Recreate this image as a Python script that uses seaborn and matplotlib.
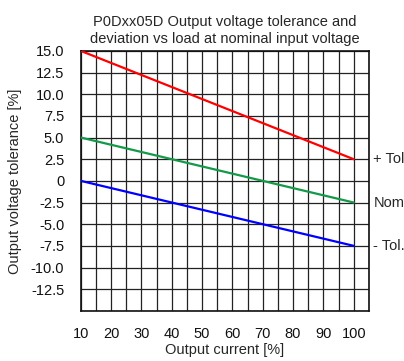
import matplotlib
matplotlib.use("Agg")
import matplotlib.pyplot as plt
import seaborn as sns
import pandas as pd
import numpy as np

current = [10, 100]
tol_plus = [15.0, 2.5]
nominal = [5.0, -2.5]
tol_minus = [0.0, -7.5]
series_names = ["+ Tol", "Nom", "- Tol."]
series_colors = ["#ff0000", "#129a48", "#0000ff"]
x_ticks = [10, 20, 30, 40, 50, 60, 70, 80, 90, 100]
y_ticks = [15.0, 12.5, 10.0, 7.5, 5.0, 2.5, 0, -2.5, -5.0, -7.5, -10.0, -12.5]
y_tick_labels = ["15.0", "12.5", "10.0", "7.5", "5.0", "2.5", "0", "-2.5", "-5.0", "-7.5", "-10.0", "-12.5"]

sns.set_style("white")
plt.rcParams['font.family'] = ['Liberation Sans', 'DejaVu Sans']

df = pd.DataFrame({
    "current": current * 3,
    "value": tol_plus + nominal + tol_minus,
    "series": [s for s in series_names for _ in current],
})

fs = 10.5
fig = plt.figure(figsize=(4.04, 3.61), dpi=100)
ax = fig.add_axes([0.200, 0.139, 0.713, 0.720])

# grid
for xv in np.arange(10, 105.1, 5):
    ax.axvline(xv, color="#222222", lw=0.9, zorder=1)
for yv in np.arange(-15, 15.1, 2.5):
    ax.axhline(yv, color="#222222", lw=0.9, zorder=1)

sns.lineplot(data=df, x="current", y="value", hue="series", palette=series_colors,
             hue_order=series_names, legend=False, ax=ax, lw=1.6, zorder=3)

ax.set_xlim(10, 105)
ax.set_ylim(-15, 15)
ax.set_xticks(x_ticks)
ax.set_xticklabels([str(t) for t in x_ticks])
ax.set_yticks(y_ticks)
ax.set_yticklabels(y_tick_labels)
ax.tick_params(axis="both", length=0, labelsize=fs, colors="#111111")
ax.tick_params(axis="x", pad=12)
ax.tick_params(axis="y", pad=12)
for s in ax.spines.values():
    s.set_color("#111111")
    s.set_linewidth(1.2)

ax.set_xlabel("Output current [%]", fontsize=fs, labelpad=1)
ax.set_ylabel("Output voltage tolerance [%]", fontsize=fs, labelpad=6)
ax.set_title("P0Dxx05D Output voltage tolerance and\ndeviation vs load at nominal input voltage",
             fontsize=fs, pad=6, linespacing=1.2)

ends = [tol_plus[-1], nominal[-1], tol_minus[-1]]
for name, yv in zip(series_names, ends):
    ax.text(106.5, yv, name, fontsize=fs, va="center", ha="left", clip_on=False)

fig.savefig("out.png", dpi=100)
